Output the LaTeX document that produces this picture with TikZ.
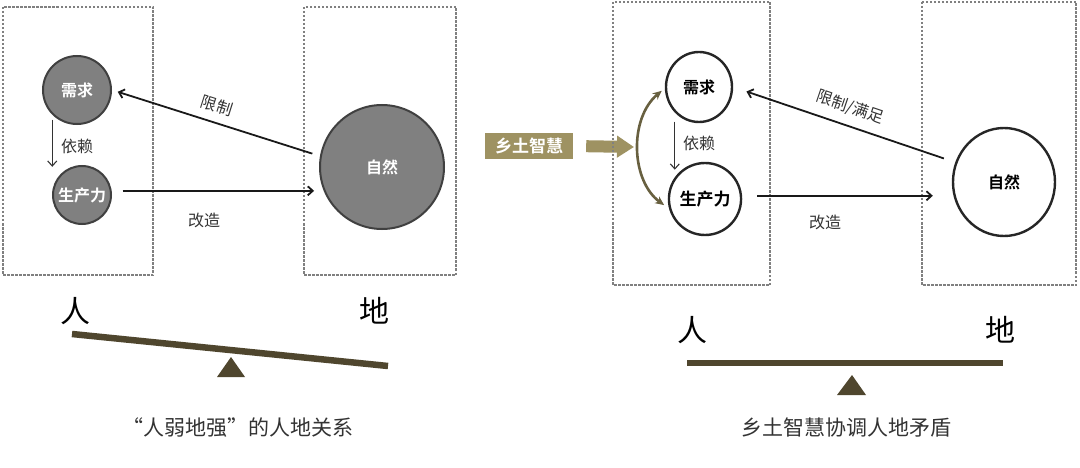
\documentclass[tikz,border=0pt]{standalone}
\usepackage{fontspec}
\setmainfont{Noto Sans CJK SC}[BoldFont={Noto Sans CJK SC Bold}]
\usepackage{xcolor}
\usetikzlibrary{arrows.meta,shapes,positioning}
\definecolor{soil}{RGB}{79,70,46}
\definecolor{wisdom}{RGB}{158,146,98}
\definecolor{vine}{RGB}{104,96,64}
\definecolor{ink}{RGB}{51,51,51}
\tikzset{
	frame/.style = {draw=gray, line width=1.1pt, dash pattern=on 2.5pt off 1.5pt},
	basic/.style = {inner sep=0pt, font=\bfseries\fontsize{16}{16}\selectfont},
	weak/.style = {basic, circle, draw=black!75, fill=gray, line width=2pt, text=white},
	strong/.style = {basic, ellipse, draw=black!85, fill=white, line width=2.4pt, text=black},
	tag/.style = {text=ink, font=\fontsize{16}{16}\selectfont},
	side/.style = {font=\fontsize{30}{30}\selectfont},
	caption/.style = {text=ink, font=\fontsize{21}{21}\selectfont},
	beam/.style = {draw=soil, line width=6.5pt},
	link/.style = {->, draw=black!90, line width=1.8pt},
	dep/.style = {->, draw=black!80, line width=1.1pt}
}

\begin{document}
\begin{tikzpicture}[x=1pt, y=-1pt, >={Straight Barb[length=5pt,width=9pt]}]
	\useasboundingbox (0,0) rectangle (1080,468);
	\draw[frame] (3,7) rectangle (153,275);
	\draw[frame] (304,7) rectangle (456,275);
	\node[weak, minimum size=68pt] (need1) at (77,90) {需求};
	\node[weak, minimum size=58pt] (prod1) at (82,195) {生产力};
	\node[weak, minimum size=124pt] (nat1) at (382,167) {自然};
	\draw[link, shorten <=8pt, shorten >=6pt] (nat1.170) -- (need1.0)
		node[tag, pos=0.52, sloped, above=5pt] {限制};
	\draw[link, shorten <=11pt, shorten >=8pt] (prod1.8) -- (prod1.8 -| nat1.198);
	\node[tag] (make1) at (204,220) {改造};
	\draw[dep, shorten <=5pt, shorten >=7pt] (need1.south west) -- (need1.south west |- prod1.north west);
	\node[tag] (rely1) at (77,146) {依赖};
	\node[side] (ren1) at (75,311) {人};
	\node[side] (di1) at (374,311) {地};
	\draw[beam] (72,334) -- (388,366);
	\fill[soil] (217,377) -- (231,357) -- (245,377) -- cycle;
	\node[caption] (cap1) at (238,428) {“人弱地强”的人地关系};
	\node[basic, fill=wisdom, text=white, minimum width=88pt, minimum height=26pt, font=\bfseries\fontsize{17}{17}\selectfont] (wis) at (529,146) {乡土智慧};
	\coordinate (push) at (634,147);
	\draw[wisdom, line width=12pt, shorten <=13pt, -{Triangle[length=17pt,width=21pt]}] (wis.east) -- (push);
	\draw[frame] (613,2) rectangle (770,285);
	\draw[frame] (922,2) rectangle (1076,285);
	\node[strong, minimum width=66pt, minimum height=70pt] (need2) at (699,87) {需求};
	\node[strong, minimum width=69pt, minimum height=72pt, font=\bfseries\fontsize{17}{17}\selectfont] (prod2) at (705,199) {生产力};
	\node[strong, minimum width=102pt, minimum height=108pt] (nat2) at (1004,182) {自然};
	\draw[vine, line width=2.6pt, {Stealth[length=9pt,width=8pt]}-{Stealth[length=9pt,width=8pt]}, shorten <=4pt, shorten >=6pt] (need2.182) to[bend right=52] (prod2.195);
	\draw[link, shorten <=12pt, shorten >=14pt] (nat2.158) -- (need2.0)
		node[tag, midway, sloped, above=6pt] {限制/满足};
	\draw[link, shorten <=15pt, shorten >=19pt] (prod2.5) -- (prod2.5 -| nat2.west);
	\node[tag] (make2) at (825,222) {改造};
	\draw[dep, shorten <=9pt, shorten >=3pt] (need2.south west) -- (need2.south west |- prod2.north west);
	\node[tag] (rely2) at (699,143) {依赖};
	\node[side] (ren2) at (692,330) {人};
	\node[side] (di2) at (1000,330) {地};
	\draw[beam] (687,363) -- (1003,363);
	\fill[soil] (837,395) -- (852,375) -- (866,395) -- cycle;
	\node[caption] (cap2) at (846,428) {乡土智慧协调人地矛盾};
\end{tikzpicture}
\end{document}
